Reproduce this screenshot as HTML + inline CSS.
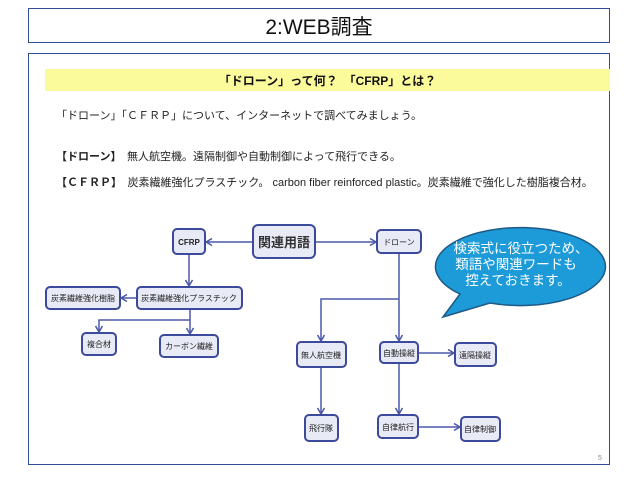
<!DOCTYPE html>
<html><head><meta charset="utf-8"><style>
body{margin:0;width:640px;height:480px;background:#fff;position:relative;overflow:hidden;font-family:"Liberation Sans","Noto Sans CJK JP",sans-serif;}
.abs{position:absolute;}
.box{position:absolute;border:1.5px solid #2f4f9a;box-sizing:border-box;}
.t{position:absolute;font-size:11px;color:#222;white-space:nowrap;}
</style></head><body>
<div class="box" style="left:28px;top:8px;width:582px;height:35px;"></div>
<div class="abs" style="left:28px;top:11px;width:582px;text-align:center;font-size:21px;color:#111;">2:WEB調査</div>
<div class="box" style="left:28px;top:53px;width:582px;height:412px;"></div>
<div class="abs" style="left:45px;top:69px;width:565px;height:22px;background:#fbfb9c;"></div>
<div class="abs" style="left:45px;top:72px;width:565px;text-align:center;font-size:12px;font-weight:bold;color:#111;">「ドローン」って何？　「CFRP」とは？</div>
<div class="t" style="left:56px;top:107px;">「ドローン」「ＣＦＲＰ」について、インターネットで調べてみましょう。</div>
<div class="t" style="left:56px;top:148px;"><b>【ドローン】</b>　無人航空機。遠隔制御や自動制御によって飛行できる。</div>
<div class="t" style="left:56px;top:174px;"><b>【ＣＦＲＰ】</b>　炭素繊維強化プラスチック。 carbon fiber reinforced plastic。炭素繊維で強化した樹脂複合材。</div>
<svg class="abs" style="left:0;top:0" width="640" height="480">
<defs><marker id="a" markerWidth="8" markerHeight="8" refX="7" refY="4" orient="auto" markerUnits="userSpaceOnUse"><path d="M1,0.5 L7,4 L1,7.5" fill="none" stroke="#4a58a8" stroke-width="1.5"/></marker></defs>
<g stroke="#4a58a8" stroke-width="1.5" fill="none">
<path d="M253,242 H206" marker-end="url(#a)"/>
<path d="M315,242 H376" marker-end="url(#a)"/>
<path d="M189,254 V286" marker-end="url(#a)"/>
<path d="M137,298 H121" marker-end="url(#a)"/>
<path d="M190,309 V334" marker-end="url(#a)"/>
<path d="M190,320 H99 V332" marker-end="url(#a)"/>
<path d="M399,253 V341" marker-end="url(#a)"/>
<path d="M399,299 H321 V341" marker-end="url(#a)"/>
<path d="M321,367 V414" marker-end="url(#a)"/>
<path d="M399,363 V414" marker-end="url(#a)"/>
<path d="M418,353 H454" marker-end="url(#a)"/>
<path d="M418,427 H460" marker-end="url(#a)"/>
</g>
<path d="M443,317 L460,294 A85,39 0 1 1 490,303 Z" fill="#1d9ad8" stroke="#1f5a86" stroke-width="1.5"/>
<text x="521" y="253" fill="#fff" font-size="13.5" text-anchor="middle" font-family="Liberation Sans,Noto Sans CJK JP,sans-serif">検索式に役立つため、</text>
<text x="516" y="269" fill="#fff" font-size="13.5" text-anchor="middle" font-family="Liberation Sans,Noto Sans CJK JP,sans-serif">類語や関連ワードも</text>
<text x="518" y="285" fill="#fff" font-size="13.5" text-anchor="middle" font-family="Liberation Sans,Noto Sans CJK JP,sans-serif">控えておきます。</text>
<g fill="#e8eaf6" stroke="#3b4a9a" stroke-width="2">
<rect x="173" y="229" width="32" height="25" rx="4"/>
<rect x="253" y="225" width="62" height="33" rx="5"/>
<rect x="137" y="287" width="105" height="22" rx="4"/>
<rect x="46" y="287" width="74" height="22" rx="4"/>
<rect x="82" y="333" width="34" height="22" rx="4"/>
<rect x="160" y="335" width="58" height="22" rx="4"/>
<rect x="377" y="230" width="44" height="23" rx="4"/>
<rect x="297" y="342" width="49" height="25" rx="4"/>
<rect x="380" y="342" width="38" height="21" rx="4"/>
<rect x="455" y="343" width="41" height="23" rx="4"/>
<rect x="305" y="415" width="33" height="26" rx="4"/>
<rect x="378" y="415" width="40" height="23" rx="4"/>
<rect x="461" y="417" width="39" height="24" rx="4"/>
</g>
<g font-size="8" fill="#222" text-anchor="middle" font-family="Liberation Sans,Noto Sans CJK JP,sans-serif">
<text x="189" y="245" font-weight="bold">CFRP</text>
<text x="284" y="247" font-size="13" font-weight="bold" fill="#333">関連用語</text>
<text x="189" y="301">炭素繊維強化プラスチック</text>
<text x="83" y="301">炭素繊維強化樹脂</text>
<text x="99" y="347">複合材</text>
<text x="189" y="349">カーボン繊維</text>
<text x="399" y="245">ドローン</text>
<text x="321" y="358">無人航空機</text>
<text x="399" y="356">自動操縦</text>
<text x="475" y="358">遠隔操縦</text>
<text x="321" y="431">飛行隊</text>
<text x="398" y="430">自律航行</text>
<text x="480" y="432">自律制御</text>
</g>
<text x="598" y="460" font-size="7" fill="#888" font-family="Liberation Sans,sans-serif">5</text>
</svg>
</body></html>
